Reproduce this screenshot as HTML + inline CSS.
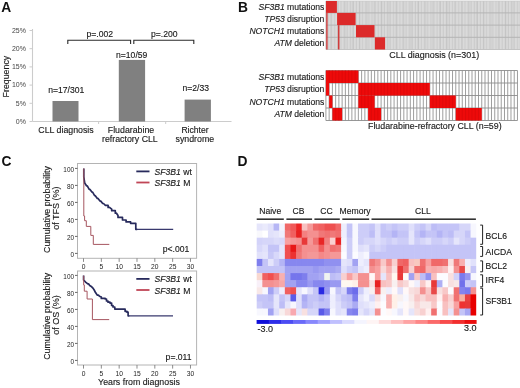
<!DOCTYPE html>
<html><head><meta charset="utf-8"><style>
html,body{margin:0;padding:0;background:#fff;width:520px;height:388px;overflow:hidden}
svg{display:block;will-change:transform;font-family:"Liberation Sans", sans-serif}
text[fill="#1a1a1a"]{stroke:#1a1a1a;stroke-width:0.14px}
</style></head><body>
<svg width="520" height="388" viewBox="0 0 520 388">
<text x="1.2" y="12.4" text-anchor="start" font-size="13.8" font-weight="bold" fill="#111" >A</text>
<text x="238" y="11.6" text-anchor="start" font-size="13.8" font-weight="bold" fill="#111" >B</text>
<text x="1.5" y="165.6" text-anchor="start" font-size="13.8" font-weight="bold" fill="#111" >C</text>
<text x="237.5" y="165.8" text-anchor="start" font-size="13.8" font-weight="bold" fill="#111" >D</text>
<line x1="32.5" y1="29.0" x2="32.5" y2="121.5" stroke="#cccccc" stroke-width="1.1"/>
<line x1="32.5" y1="121.5" x2="231.5" y2="121.5" stroke="#cccccc" stroke-width="1.1"/>
<line x1="29.5" y1="121.5" x2="32.5" y2="121.5" stroke="#cccccc" stroke-width="1"/>
<text x="25.9" y="123.7" text-anchor="end" font-size="7.0" font-weight="normal" fill="#444" >0%</text>
<line x1="29.5" y1="103.3" x2="32.5" y2="103.3" stroke="#cccccc" stroke-width="1"/>
<text x="25.9" y="105.5" text-anchor="end" font-size="7.0" font-weight="normal" fill="#444" >5%</text>
<line x1="29.5" y1="85.1" x2="32.5" y2="85.1" stroke="#cccccc" stroke-width="1"/>
<text x="25.9" y="87.3" text-anchor="end" font-size="7.0" font-weight="normal" fill="#444" >10%</text>
<line x1="29.5" y1="66.9" x2="32.5" y2="66.9" stroke="#cccccc" stroke-width="1"/>
<text x="25.9" y="69.10000000000001" text-anchor="end" font-size="7.0" font-weight="normal" fill="#444" >15%</text>
<line x1="29.5" y1="48.7" x2="32.5" y2="48.7" stroke="#cccccc" stroke-width="1"/>
<text x="25.9" y="50.900000000000006" text-anchor="end" font-size="7.0" font-weight="normal" fill="#444" >20%</text>
<line x1="29.5" y1="30.5" x2="32.5" y2="30.5" stroke="#cccccc" stroke-width="1"/>
<text x="25.9" y="32.7" text-anchor="end" font-size="7.0" font-weight="normal" fill="#444" >25%</text>
<line x1="98.6" y1="121.5" x2="98.6" y2="124.0" stroke="#cccccc" stroke-width="1"/>
<line x1="165.7" y1="121.5" x2="165.7" y2="124.0" stroke="#cccccc" stroke-width="1"/>
<text transform="translate(8.9,76.6) rotate(-90)" text-anchor="middle" font-size="8.8" fill="#1a1a1a">Frequency</text>
<rect x="52.50" y="101.00" width="26.00" height="20.50" fill="#808080" />
<rect x="118.80" y="59.90" width="26.30" height="61.60" fill="#808080" />
<rect x="184.60" y="99.60" width="26.30" height="21.90" fill="#808080" />
<text x="66.2" y="92.7" text-anchor="middle" font-size="8.6" font-weight="normal" fill="#1a1a1a" >n=17/301</text>
<text x="131.7" y="57.5" text-anchor="middle" font-size="8.6" font-weight="normal" fill="#1a1a1a" >n=10/59</text>
<text x="195.8" y="91.2" text-anchor="middle" font-size="8.6" font-weight="normal" fill="#1a1a1a" >n=2/33</text>
<text x="66" y="133" text-anchor="middle" font-size="8.8" font-weight="normal" fill="#1a1a1a" >CLL diagnosis</text>
<text x="131" y="132.7" text-anchor="middle" font-size="8.8" font-weight="normal" fill="#1a1a1a" >Fludarabine</text>
<text x="129.9" y="141.8" text-anchor="middle" font-size="8.8" font-weight="normal" fill="#1a1a1a" >refractory CLL</text>
<text x="195" y="132.8" text-anchor="middle" font-size="8.6" font-weight="normal" fill="#1a1a1a" >Richter</text>
<text x="194.8" y="141.6" text-anchor="middle" font-size="8.8" font-weight="normal" fill="#1a1a1a" >syndrome</text>
<path d="M67.8,44.0 V40.3 H130.6 V44.0" fill="none" stroke="#2a2a2a" stroke-width="1.1"/>
<path d="M133.8,44.0 V40.3 H193.8 V44.0" fill="none" stroke="#2a2a2a" stroke-width="1.1"/>
<text x="99.8" y="37.3" text-anchor="middle" font-size="8.6" font-weight="normal" fill="#1a1a1a" >p=.002</text>
<text x="164.3" y="37.3" text-anchor="middle" font-size="8.6" font-weight="normal" fill="#1a1a1a" >p=.200</text>
<text x="324.4" y="9.6" text-anchor="end" font-size="8.6" fill="#1a1a1a"><tspan font-style="italic">SF3B1</tspan> mutations</text>
<text x="324.4" y="21.6" text-anchor="end" font-size="8.6" fill="#1a1a1a"><tspan font-style="italic">TP53</tspan> disruption</text>
<text x="324.4" y="33.8" text-anchor="end" font-size="8.6" fill="#1a1a1a"><tspan font-style="italic">NOTCH1</tspan> mutations</text>
<text x="324.4" y="46.0" text-anchor="end" font-size="8.6" fill="#1a1a1a"><tspan font-style="italic">ATM</tspan> deletion</text>
<text x="324.4" y="80.0" text-anchor="end" font-size="8.6" fill="#1a1a1a"><tspan font-style="italic">SF3B1</tspan> mutations</text>
<text x="324.4" y="92.4" text-anchor="end" font-size="8.6" fill="#1a1a1a"><tspan font-style="italic">TP53</tspan> disruption</text>
<text x="324.4" y="104.9" text-anchor="end" font-size="8.6" fill="#1a1a1a"><tspan font-style="italic">NOTCH1</tspan> mutations</text>
<text x="324.4" y="117.4" text-anchor="end" font-size="8.6" fill="#1a1a1a"><tspan font-style="italic">ATM</tspan> deletion</text>
<defs><pattern id="stripes" x="326.0" y="0" width="3.1" height="10" patternUnits="userSpaceOnUse"><rect width="3.1" height="10" fill="#dadada"/><rect x="2.1" width="0.9" height="10" fill="#c9c9c9"/></pattern><pattern id="stripes2" x="327.0" y="0" width="7.3" height="10" patternUnits="userSpaceOnUse"><rect x="3" width="1.2" height="10" fill="#000" fill-opacity="0.05"/></pattern></defs>
<rect x="326.00" y="1.00" width="194.50" height="48.50" fill="url(#stripes)" />
<rect x="326.00" y="1.00" width="194.50" height="48.50" fill="url(#stripes2)" />
<line x1="326.0" y1="12.9" x2="520.5" y2="12.9" stroke="#b4b4b4" stroke-width="1"/>
<line x1="326.0" y1="25.1" x2="520.5" y2="25.1" stroke="#b4b4b4" stroke-width="1"/>
<line x1="326.0" y1="37.3" x2="520.5" y2="37.3" stroke="#b4b4b4" stroke-width="1"/>
<line x1="326.0" y1="1.0" x2="520.5" y2="1.0" stroke="#c8c8c8" stroke-width="0.8"/>
<line x1="326.0" y1="49.5" x2="520.5" y2="49.5" stroke="#c0c0c0" stroke-width="0.9"/>
<line x1="326.0" y1="1.0" x2="326.0" y2="49.5" stroke="#b8b8b8" stroke-width="1"/>
<rect x="326.00" y="1.00" width="10.90" height="11.90" fill="#dc2a2a" />
<rect x="337.10" y="12.90" width="18.50" height="12.20" fill="#dc2a2a" />
<rect x="356.00" y="25.10" width="18.50" height="12.20" fill="#dc2a2a" />
<rect x="374.90" y="37.30" width="10.20" height="12.20" fill="#dc2a2a" />
<rect x="326.20" y="12.90" width="1.40" height="36.60" fill="#d03c3c" />
<rect x="337.90" y="25.10" width="1.60" height="24.40" fill="#d03c3c" />
<text x="389.3" y="58.0" text-anchor="start" font-size="8.95" font-weight="normal" fill="#1a1a1a" >CLL diagnosis (n=301)</text>
<rect x="325.90" y="70.50" width="191.57" height="50.00" fill="#fff" />
<line x1="325.9" y1="70.5" x2="325.9" y2="120.5" stroke="#8c8c8c" stroke-width="0.85"/>
<line x1="329.147" y1="70.5" x2="329.147" y2="120.5" stroke="#8c8c8c" stroke-width="0.85"/>
<line x1="332.394" y1="70.5" x2="332.394" y2="120.5" stroke="#8c8c8c" stroke-width="0.85"/>
<line x1="335.64099999999996" y1="70.5" x2="335.64099999999996" y2="120.5" stroke="#8c8c8c" stroke-width="0.85"/>
<line x1="338.888" y1="70.5" x2="338.888" y2="120.5" stroke="#8c8c8c" stroke-width="0.85"/>
<line x1="342.135" y1="70.5" x2="342.135" y2="120.5" stroke="#8c8c8c" stroke-width="0.85"/>
<line x1="345.38199999999995" y1="70.5" x2="345.38199999999995" y2="120.5" stroke="#8c8c8c" stroke-width="0.85"/>
<line x1="348.62899999999996" y1="70.5" x2="348.62899999999996" y2="120.5" stroke="#8c8c8c" stroke-width="0.85"/>
<line x1="351.876" y1="70.5" x2="351.876" y2="120.5" stroke="#8c8c8c" stroke-width="0.85"/>
<line x1="355.123" y1="70.5" x2="355.123" y2="120.5" stroke="#8c8c8c" stroke-width="0.85"/>
<line x1="358.37" y1="70.5" x2="358.37" y2="120.5" stroke="#8c8c8c" stroke-width="0.85"/>
<line x1="361.61699999999996" y1="70.5" x2="361.61699999999996" y2="120.5" stroke="#8c8c8c" stroke-width="0.85"/>
<line x1="364.864" y1="70.5" x2="364.864" y2="120.5" stroke="#8c8c8c" stroke-width="0.85"/>
<line x1="368.111" y1="70.5" x2="368.111" y2="120.5" stroke="#8c8c8c" stroke-width="0.85"/>
<line x1="371.35799999999995" y1="70.5" x2="371.35799999999995" y2="120.5" stroke="#8c8c8c" stroke-width="0.85"/>
<line x1="374.60499999999996" y1="70.5" x2="374.60499999999996" y2="120.5" stroke="#8c8c8c" stroke-width="0.85"/>
<line x1="377.852" y1="70.5" x2="377.852" y2="120.5" stroke="#8c8c8c" stroke-width="0.85"/>
<line x1="381.099" y1="70.5" x2="381.099" y2="120.5" stroke="#8c8c8c" stroke-width="0.85"/>
<line x1="384.346" y1="70.5" x2="384.346" y2="120.5" stroke="#8c8c8c" stroke-width="0.85"/>
<line x1="387.59299999999996" y1="70.5" x2="387.59299999999996" y2="120.5" stroke="#8c8c8c" stroke-width="0.85"/>
<line x1="390.84" y1="70.5" x2="390.84" y2="120.5" stroke="#8c8c8c" stroke-width="0.85"/>
<line x1="394.087" y1="70.5" x2="394.087" y2="120.5" stroke="#8c8c8c" stroke-width="0.85"/>
<line x1="397.33399999999995" y1="70.5" x2="397.33399999999995" y2="120.5" stroke="#8c8c8c" stroke-width="0.85"/>
<line x1="400.58099999999996" y1="70.5" x2="400.58099999999996" y2="120.5" stroke="#8c8c8c" stroke-width="0.85"/>
<line x1="403.828" y1="70.5" x2="403.828" y2="120.5" stroke="#8c8c8c" stroke-width="0.85"/>
<line x1="407.075" y1="70.5" x2="407.075" y2="120.5" stroke="#8c8c8c" stroke-width="0.85"/>
<line x1="410.322" y1="70.5" x2="410.322" y2="120.5" stroke="#8c8c8c" stroke-width="0.85"/>
<line x1="413.56899999999996" y1="70.5" x2="413.56899999999996" y2="120.5" stroke="#8c8c8c" stroke-width="0.85"/>
<line x1="416.816" y1="70.5" x2="416.816" y2="120.5" stroke="#8c8c8c" stroke-width="0.85"/>
<line x1="420.063" y1="70.5" x2="420.063" y2="120.5" stroke="#8c8c8c" stroke-width="0.85"/>
<line x1="423.30999999999995" y1="70.5" x2="423.30999999999995" y2="120.5" stroke="#8c8c8c" stroke-width="0.85"/>
<line x1="426.55699999999996" y1="70.5" x2="426.55699999999996" y2="120.5" stroke="#8c8c8c" stroke-width="0.85"/>
<line x1="429.804" y1="70.5" x2="429.804" y2="120.5" stroke="#8c8c8c" stroke-width="0.85"/>
<line x1="433.051" y1="70.5" x2="433.051" y2="120.5" stroke="#8c8c8c" stroke-width="0.85"/>
<line x1="436.298" y1="70.5" x2="436.298" y2="120.5" stroke="#8c8c8c" stroke-width="0.85"/>
<line x1="439.54499999999996" y1="70.5" x2="439.54499999999996" y2="120.5" stroke="#8c8c8c" stroke-width="0.85"/>
<line x1="442.792" y1="70.5" x2="442.792" y2="120.5" stroke="#8c8c8c" stroke-width="0.85"/>
<line x1="446.039" y1="70.5" x2="446.039" y2="120.5" stroke="#8c8c8c" stroke-width="0.85"/>
<line x1="449.28599999999994" y1="70.5" x2="449.28599999999994" y2="120.5" stroke="#8c8c8c" stroke-width="0.85"/>
<line x1="452.53299999999996" y1="70.5" x2="452.53299999999996" y2="120.5" stroke="#8c8c8c" stroke-width="0.85"/>
<line x1="455.78" y1="70.5" x2="455.78" y2="120.5" stroke="#8c8c8c" stroke-width="0.85"/>
<line x1="459.027" y1="70.5" x2="459.027" y2="120.5" stroke="#8c8c8c" stroke-width="0.85"/>
<line x1="462.274" y1="70.5" x2="462.274" y2="120.5" stroke="#8c8c8c" stroke-width="0.85"/>
<line x1="465.52099999999996" y1="70.5" x2="465.52099999999996" y2="120.5" stroke="#8c8c8c" stroke-width="0.85"/>
<line x1="468.768" y1="70.5" x2="468.768" y2="120.5" stroke="#8c8c8c" stroke-width="0.85"/>
<line x1="472.015" y1="70.5" x2="472.015" y2="120.5" stroke="#8c8c8c" stroke-width="0.85"/>
<line x1="475.26199999999994" y1="70.5" x2="475.26199999999994" y2="120.5" stroke="#8c8c8c" stroke-width="0.85"/>
<line x1="478.50899999999996" y1="70.5" x2="478.50899999999996" y2="120.5" stroke="#8c8c8c" stroke-width="0.85"/>
<line x1="481.756" y1="70.5" x2="481.756" y2="120.5" stroke="#8c8c8c" stroke-width="0.85"/>
<line x1="485.003" y1="70.5" x2="485.003" y2="120.5" stroke="#8c8c8c" stroke-width="0.85"/>
<line x1="488.25" y1="70.5" x2="488.25" y2="120.5" stroke="#8c8c8c" stroke-width="0.85"/>
<line x1="491.49699999999996" y1="70.5" x2="491.49699999999996" y2="120.5" stroke="#8c8c8c" stroke-width="0.85"/>
<line x1="494.74399999999997" y1="70.5" x2="494.74399999999997" y2="120.5" stroke="#8c8c8c" stroke-width="0.85"/>
<line x1="497.991" y1="70.5" x2="497.991" y2="120.5" stroke="#8c8c8c" stroke-width="0.85"/>
<line x1="501.23799999999994" y1="70.5" x2="501.23799999999994" y2="120.5" stroke="#8c8c8c" stroke-width="0.85"/>
<line x1="504.48499999999996" y1="70.5" x2="504.48499999999996" y2="120.5" stroke="#8c8c8c" stroke-width="0.85"/>
<line x1="507.73199999999997" y1="70.5" x2="507.73199999999997" y2="120.5" stroke="#8c8c8c" stroke-width="0.85"/>
<line x1="510.979" y1="70.5" x2="510.979" y2="120.5" stroke="#8c8c8c" stroke-width="0.85"/>
<line x1="514.226" y1="70.5" x2="514.226" y2="120.5" stroke="#8c8c8c" stroke-width="0.85"/>
<line x1="517.473" y1="70.5" x2="517.473" y2="120.5" stroke="#8c8c8c" stroke-width="0.85"/>
<line x1="325.9" y1="70.5" x2="517.473" y2="70.5" stroke="#8c8c8c" stroke-width="0.9"/>
<line x1="325.9" y1="83.0" x2="517.473" y2="83.0" stroke="#8c8c8c" stroke-width="0.9"/>
<line x1="325.9" y1="95.5" x2="517.473" y2="95.5" stroke="#8c8c8c" stroke-width="0.9"/>
<line x1="325.9" y1="108.0" x2="517.473" y2="108.0" stroke="#8c8c8c" stroke-width="0.9"/>
<line x1="325.9" y1="120.5" x2="517.473" y2="120.5" stroke="#8c8c8c" stroke-width="0.9"/>
<rect x="325.90" y="70.50" width="32.47" height="12.50" fill="#ee0a0a" />
<line x1="329.147" y1="70.5" x2="329.147" y2="83.0" stroke="#d80808" stroke-width="0.7"/>
<line x1="332.394" y1="70.5" x2="332.394" y2="83.0" stroke="#d80808" stroke-width="0.7"/>
<line x1="335.64099999999996" y1="70.5" x2="335.64099999999996" y2="83.0" stroke="#d80808" stroke-width="0.7"/>
<line x1="338.888" y1="70.5" x2="338.888" y2="83.0" stroke="#d80808" stroke-width="0.7"/>
<line x1="342.135" y1="70.5" x2="342.135" y2="83.0" stroke="#d80808" stroke-width="0.7"/>
<line x1="345.38199999999995" y1="70.5" x2="345.38199999999995" y2="83.0" stroke="#d80808" stroke-width="0.7"/>
<line x1="348.62899999999996" y1="70.5" x2="348.62899999999996" y2="83.0" stroke="#d80808" stroke-width="0.7"/>
<line x1="351.876" y1="70.5" x2="351.876" y2="83.0" stroke="#d80808" stroke-width="0.7"/>
<line x1="355.123" y1="70.5" x2="355.123" y2="83.0" stroke="#d80808" stroke-width="0.7"/>
<rect x="325.90" y="83.00" width="3.25" height="12.50" fill="#ee0a0a" />
<rect x="358.37" y="83.00" width="71.43" height="12.50" fill="#ee0a0a" />
<line x1="361.61699999999996" y1="83.0" x2="361.61699999999996" y2="95.5" stroke="#d80808" stroke-width="0.7"/>
<line x1="364.864" y1="83.0" x2="364.864" y2="95.5" stroke="#d80808" stroke-width="0.7"/>
<line x1="368.111" y1="83.0" x2="368.111" y2="95.5" stroke="#d80808" stroke-width="0.7"/>
<line x1="371.35799999999995" y1="83.0" x2="371.35799999999995" y2="95.5" stroke="#d80808" stroke-width="0.7"/>
<line x1="374.60499999999996" y1="83.0" x2="374.60499999999996" y2="95.5" stroke="#d80808" stroke-width="0.7"/>
<line x1="377.852" y1="83.0" x2="377.852" y2="95.5" stroke="#d80808" stroke-width="0.7"/>
<line x1="381.099" y1="83.0" x2="381.099" y2="95.5" stroke="#d80808" stroke-width="0.7"/>
<line x1="384.346" y1="83.0" x2="384.346" y2="95.5" stroke="#d80808" stroke-width="0.7"/>
<line x1="387.59299999999996" y1="83.0" x2="387.59299999999996" y2="95.5" stroke="#d80808" stroke-width="0.7"/>
<line x1="390.84" y1="83.0" x2="390.84" y2="95.5" stroke="#d80808" stroke-width="0.7"/>
<line x1="394.087" y1="83.0" x2="394.087" y2="95.5" stroke="#d80808" stroke-width="0.7"/>
<line x1="397.33399999999995" y1="83.0" x2="397.33399999999995" y2="95.5" stroke="#d80808" stroke-width="0.7"/>
<line x1="400.58099999999996" y1="83.0" x2="400.58099999999996" y2="95.5" stroke="#d80808" stroke-width="0.7"/>
<line x1="403.828" y1="83.0" x2="403.828" y2="95.5" stroke="#d80808" stroke-width="0.7"/>
<line x1="407.075" y1="83.0" x2="407.075" y2="95.5" stroke="#d80808" stroke-width="0.7"/>
<line x1="410.322" y1="83.0" x2="410.322" y2="95.5" stroke="#d80808" stroke-width="0.7"/>
<line x1="413.56899999999996" y1="83.0" x2="413.56899999999996" y2="95.5" stroke="#d80808" stroke-width="0.7"/>
<line x1="416.816" y1="83.0" x2="416.816" y2="95.5" stroke="#d80808" stroke-width="0.7"/>
<line x1="420.063" y1="83.0" x2="420.063" y2="95.5" stroke="#d80808" stroke-width="0.7"/>
<line x1="423.30999999999995" y1="83.0" x2="423.30999999999995" y2="95.5" stroke="#d80808" stroke-width="0.7"/>
<line x1="426.55699999999996" y1="83.0" x2="426.55699999999996" y2="95.5" stroke="#d80808" stroke-width="0.7"/>
<rect x="329.15" y="95.50" width="3.25" height="12.50" fill="#ee0a0a" />
<rect x="358.37" y="95.50" width="16.23" height="12.50" fill="#ee0a0a" />
<line x1="361.61699999999996" y1="95.5" x2="361.61699999999996" y2="108.0" stroke="#d80808" stroke-width="0.7"/>
<line x1="364.864" y1="95.5" x2="364.864" y2="108.0" stroke="#d80808" stroke-width="0.7"/>
<line x1="368.111" y1="95.5" x2="368.111" y2="108.0" stroke="#d80808" stroke-width="0.7"/>
<line x1="371.35799999999995" y1="95.5" x2="371.35799999999995" y2="108.0" stroke="#d80808" stroke-width="0.7"/>
<rect x="429.80" y="95.50" width="25.98" height="12.50" fill="#ee0a0a" />
<line x1="433.051" y1="95.5" x2="433.051" y2="108.0" stroke="#d80808" stroke-width="0.7"/>
<line x1="436.298" y1="95.5" x2="436.298" y2="108.0" stroke="#d80808" stroke-width="0.7"/>
<line x1="439.54499999999996" y1="95.5" x2="439.54499999999996" y2="108.0" stroke="#d80808" stroke-width="0.7"/>
<line x1="442.792" y1="95.5" x2="442.792" y2="108.0" stroke="#d80808" stroke-width="0.7"/>
<line x1="446.039" y1="95.5" x2="446.039" y2="108.0" stroke="#d80808" stroke-width="0.7"/>
<line x1="449.28599999999994" y1="95.5" x2="449.28599999999994" y2="108.0" stroke="#d80808" stroke-width="0.7"/>
<line x1="452.53299999999996" y1="95.5" x2="452.53299999999996" y2="108.0" stroke="#d80808" stroke-width="0.7"/>
<rect x="332.39" y="108.00" width="9.74" height="12.50" fill="#ee0a0a" />
<line x1="335.64099999999996" y1="108.0" x2="335.64099999999996" y2="120.5" stroke="#d80808" stroke-width="0.7"/>
<line x1="338.888" y1="108.0" x2="338.888" y2="120.5" stroke="#d80808" stroke-width="0.7"/>
<rect x="368.11" y="108.00" width="12.99" height="12.50" fill="#ee0a0a" />
<line x1="371.35799999999995" y1="108.0" x2="371.35799999999995" y2="120.5" stroke="#d80808" stroke-width="0.7"/>
<line x1="374.60499999999996" y1="108.0" x2="374.60499999999996" y2="120.5" stroke="#d80808" stroke-width="0.7"/>
<line x1="377.852" y1="108.0" x2="377.852" y2="120.5" stroke="#d80808" stroke-width="0.7"/>
<rect x="455.78" y="108.00" width="25.98" height="12.50" fill="#ee0a0a" />
<line x1="459.027" y1="108.0" x2="459.027" y2="120.5" stroke="#d80808" stroke-width="0.7"/>
<line x1="462.274" y1="108.0" x2="462.274" y2="120.5" stroke="#d80808" stroke-width="0.7"/>
<line x1="465.52099999999996" y1="108.0" x2="465.52099999999996" y2="120.5" stroke="#d80808" stroke-width="0.7"/>
<line x1="468.768" y1="108.0" x2="468.768" y2="120.5" stroke="#d80808" stroke-width="0.7"/>
<line x1="472.015" y1="108.0" x2="472.015" y2="120.5" stroke="#d80808" stroke-width="0.7"/>
<line x1="475.26199999999994" y1="108.0" x2="475.26199999999994" y2="120.5" stroke="#d80808" stroke-width="0.7"/>
<line x1="478.50899999999996" y1="108.0" x2="478.50899999999996" y2="120.5" stroke="#d80808" stroke-width="0.7"/>
<text x="368.0" y="128.8" text-anchor="start" font-size="8.85" font-weight="normal" fill="#1a1a1a" >Fludarabine-refractory CLL (n=59)</text>
<rect x="77.5" y="163.5" width="119.1" height="94.80000000000001" fill="none" stroke="#b4b4b4" stroke-width="1.0"/>
<line x1="75" y1="253.4" x2="77.5" y2="253.4" stroke="#555" stroke-width="0.9"/>
<text x="74.0" y="256.8" text-anchor="end" font-size="6.4" font-weight="normal" fill="#222" >0</text>
<line x1="75" y1="236.4" x2="77.5" y2="236.4" stroke="#555" stroke-width="0.9"/>
<text x="74.0" y="239.8" text-anchor="end" font-size="6.4" font-weight="normal" fill="#222" >20</text>
<line x1="75" y1="219.4" x2="77.5" y2="219.4" stroke="#555" stroke-width="0.9"/>
<text x="74.0" y="222.8" text-anchor="end" font-size="6.4" font-weight="normal" fill="#222" >40</text>
<line x1="75" y1="202.4" x2="77.5" y2="202.4" stroke="#555" stroke-width="0.9"/>
<text x="74.0" y="205.8" text-anchor="end" font-size="6.4" font-weight="normal" fill="#222" >60</text>
<line x1="75" y1="185.4" x2="77.5" y2="185.4" stroke="#555" stroke-width="0.9"/>
<text x="74.0" y="188.8" text-anchor="end" font-size="6.4" font-weight="normal" fill="#222" >80</text>
<line x1="75" y1="168.4" x2="77.5" y2="168.4" stroke="#555" stroke-width="0.9"/>
<text x="74.0" y="171.8" text-anchor="end" font-size="6.4" font-weight="normal" fill="#222" >100</text>
<line x1="83.5" y1="258.3" x2="83.5" y2="261.90000000000003" stroke="#777" stroke-width="0.85"/>
<text x="83.5" y="268.9" text-anchor="middle" font-size="6.7" font-weight="normal" fill="#222" >0</text>
<line x1="101.33" y1="258.3" x2="101.33" y2="261.90000000000003" stroke="#777" stroke-width="0.85"/>
<text x="101.33" y="268.9" text-anchor="middle" font-size="6.7" font-weight="normal" fill="#222" >5</text>
<line x1="119.16" y1="258.3" x2="119.16" y2="261.90000000000003" stroke="#777" stroke-width="0.85"/>
<text x="119.16" y="268.9" text-anchor="middle" font-size="6.7" font-weight="normal" fill="#222" >10</text>
<line x1="136.99" y1="258.3" x2="136.99" y2="261.90000000000003" stroke="#777" stroke-width="0.85"/>
<text x="136.99" y="268.9" text-anchor="middle" font-size="6.7" font-weight="normal" fill="#222" >15</text>
<line x1="154.82" y1="258.3" x2="154.82" y2="261.90000000000003" stroke="#777" stroke-width="0.85"/>
<text x="154.82" y="268.9" text-anchor="middle" font-size="6.7" font-weight="normal" fill="#222" >20</text>
<line x1="172.64999999999998" y1="258.3" x2="172.64999999999998" y2="261.90000000000003" stroke="#777" stroke-width="0.85"/>
<text x="172.64999999999998" y="268.9" text-anchor="middle" font-size="6.7" font-weight="normal" fill="#222" >25</text>
<line x1="190.48" y1="258.3" x2="190.48" y2="261.90000000000003" stroke="#777" stroke-width="0.85"/>
<text x="190.48" y="268.9" text-anchor="middle" font-size="6.7" font-weight="normal" fill="#222" >30</text>
<text transform="translate(49.6,209.5) rotate(-90)" text-anchor="middle" font-size="8.85" fill="#1a1a1a">Cumulative probability</text>
<text transform="translate(59.2,208.1) rotate(-90)" text-anchor="middle" font-size="9.0" fill="#1a1a1a">of TFS (%)</text>
<line x1="136.3" y1="171.4" x2="149.5" y2="171.4" stroke="#272a5c" stroke-width="1.8"/>
<line x1="136.3" y1="182.5" x2="149.5" y2="182.5" stroke="#c04656" stroke-width="1.8"/>
<text x="154.6" y="174.9" font-size="8.6" fill="#1a1a1a"><tspan font-style="italic">SF3B1</tspan> wt</text>
<text x="154.6" y="186.0" font-size="8.6" fill="#1a1a1a"><tspan font-style="italic">SF3B1</tspan> M</text>
<text x="189.3" y="251.9" text-anchor="end" font-size="8.6" font-weight="normal" fill="#1a1a1a" >p&lt;.001</text>
<rect x="77.5" y="271.0" width="119.1" height="94.0" fill="none" stroke="#b4b4b4" stroke-width="1.0"/>
<line x1="75" y1="360.4" x2="77.5" y2="360.4" stroke="#555" stroke-width="0.9"/>
<text x="74.0" y="363.79999999999995" text-anchor="end" font-size="6.4" font-weight="normal" fill="#222" >0</text>
<line x1="75" y1="343.4" x2="77.5" y2="343.4" stroke="#555" stroke-width="0.9"/>
<text x="74.0" y="346.79999999999995" text-anchor="end" font-size="6.4" font-weight="normal" fill="#222" >20</text>
<line x1="75" y1="326.4" x2="77.5" y2="326.4" stroke="#555" stroke-width="0.9"/>
<text x="74.0" y="329.79999999999995" text-anchor="end" font-size="6.4" font-weight="normal" fill="#222" >40</text>
<line x1="75" y1="309.4" x2="77.5" y2="309.4" stroke="#555" stroke-width="0.9"/>
<text x="74.0" y="312.79999999999995" text-anchor="end" font-size="6.4" font-weight="normal" fill="#222" >60</text>
<line x1="75" y1="292.4" x2="77.5" y2="292.4" stroke="#555" stroke-width="0.9"/>
<text x="74.0" y="295.79999999999995" text-anchor="end" font-size="6.4" font-weight="normal" fill="#222" >80</text>
<line x1="75" y1="275.4" x2="77.5" y2="275.4" stroke="#555" stroke-width="0.9"/>
<text x="74.0" y="278.79999999999995" text-anchor="end" font-size="6.4" font-weight="normal" fill="#222" >100</text>
<line x1="83.5" y1="365.0" x2="83.5" y2="368.6" stroke="#777" stroke-width="0.85"/>
<text x="83.5" y="375.8" text-anchor="middle" font-size="6.7" font-weight="normal" fill="#222" >0</text>
<line x1="101.33" y1="365.0" x2="101.33" y2="368.6" stroke="#777" stroke-width="0.85"/>
<text x="101.33" y="375.8" text-anchor="middle" font-size="6.7" font-weight="normal" fill="#222" >5</text>
<line x1="119.16" y1="365.0" x2="119.16" y2="368.6" stroke="#777" stroke-width="0.85"/>
<text x="119.16" y="375.8" text-anchor="middle" font-size="6.7" font-weight="normal" fill="#222" >10</text>
<line x1="136.99" y1="365.0" x2="136.99" y2="368.6" stroke="#777" stroke-width="0.85"/>
<text x="136.99" y="375.8" text-anchor="middle" font-size="6.7" font-weight="normal" fill="#222" >15</text>
<line x1="154.82" y1="365.0" x2="154.82" y2="368.6" stroke="#777" stroke-width="0.85"/>
<text x="154.82" y="375.8" text-anchor="middle" font-size="6.7" font-weight="normal" fill="#222" >20</text>
<line x1="172.64999999999998" y1="365.0" x2="172.64999999999998" y2="368.6" stroke="#777" stroke-width="0.85"/>
<text x="172.64999999999998" y="375.8" text-anchor="middle" font-size="6.7" font-weight="normal" fill="#222" >25</text>
<line x1="190.48" y1="365.0" x2="190.48" y2="368.6" stroke="#777" stroke-width="0.85"/>
<text x="190.48" y="375.8" text-anchor="middle" font-size="6.7" font-weight="normal" fill="#222" >30</text>
<text transform="translate(49.6,316.3) rotate(-90)" text-anchor="middle" font-size="8.85" fill="#1a1a1a">Cumulative probability</text>
<text transform="translate(59.2,314.90000000000003) rotate(-90)" text-anchor="middle" font-size="9.0" fill="#1a1a1a">of OS (%)</text>
<line x1="136.3" y1="278.9" x2="149.5" y2="278.9" stroke="#272a5c" stroke-width="1.8"/>
<line x1="136.3" y1="290.0" x2="149.5" y2="290.0" stroke="#c04656" stroke-width="1.8"/>
<text x="154.6" y="282.4" font-size="8.6" fill="#1a1a1a"><tspan font-style="italic">SF3B1</tspan> wt</text>
<text x="154.6" y="293.5" font-size="8.6" fill="#1a1a1a"><tspan font-style="italic">SF3B1</tspan> M</text>
<text x="191.5" y="359.6" text-anchor="end" font-size="8.6" font-weight="normal" fill="#1a1a1a" >p=.011</text>
<text x="139" y="385.2" text-anchor="middle" font-size="8.8" font-weight="normal" fill="#1a1a1a" >Years from diagnosis</text>
<path d="M83.8,168.4 V177 L84.7,183 L86.5,185.8 H87.3 L89.2,189.4 H90 L91.9,192.1 H92.6 L94.6,195.7 H95.3 L97.3,198.4 H98 L100,201.1 H100.8 L102.7,203.5 H103.5 L105.4,205.3 H108.1 V207.4 H109.5 L111.7,209.2 V210.7 H115.3 V213.2 H116.5 L118,215.5 V217.4 H122.5 V220 H126.1 V221.9 H130.6 V223.3 H135.8 V229.3 H137.2" fill="none" stroke="#272a5c" stroke-width="1.7" stroke-linejoin="round"/>
<path d="M83.8,168.4 V216 H84.6 V220.7 H86.3 V226.4 H90.8 V235.4 H93.3 V244.4 H109.3" fill="none" stroke="#a65660" stroke-width="1.0"/>
<path d="M83.6,275.6 V280 L85.9,282.3 L87.8,283.8 H88.5 L89.7,285.5 L91.7,286.8 L92.9,288.1 L94.2,290 L95.5,292.6 L97.4,295.2 H98.4 L99.4,296.2 L101.3,297.1 V298.4 H105.2 V299 H106.5 V301 H108 V302.2 H110 V303.1 H111.6 V305.5 H113 V307 H114.8 V309.1 H125.1 V311.3 H127 V312.2 H128.1 V315.8 H129.3" fill="none" stroke="#272a5c" stroke-width="1.7" stroke-linejoin="round"/>
<line x1="136.8" y1="229.3" x2="173.2" y2="229.3" stroke="#38396e" stroke-width="1.15"/>
<line x1="128.9" y1="315.8" x2="173.0" y2="315.8" stroke="#38396e" stroke-width="1.15"/>
<path d="M83.7,275.7 V285 H84.3 V291.2 H87.1 V299 H92.4 V319.6 H109.2" fill="none" stroke="#a65660" stroke-width="1.0"/>
<defs><filter id="hb" x="-2%" y="-2%" width="104%" height="104%"><feGaussianBlur stdDeviation="0.55"/></filter><clipPath id="hc"><rect x="256.7" y="223.5" width="219.5" height="92.1"/></clipPath></defs>
<g clip-path="url(#hc)"><g filter="url(#hb)">
<rect x="253.70" y="220.50" width="9.23" height="10.68" fill="#e5e5fb" />
<rect x="262.33" y="220.50" width="6.23" height="10.68" fill="#eaeafc" />
<rect x="267.96" y="220.50" width="6.23" height="10.68" fill="#e1e1fb" />
<rect x="273.58" y="220.50" width="6.23" height="10.68" fill="#b6b6f5" />
<rect x="279.21" y="220.50" width="6.23" height="10.68" fill="#f3f3fd" />
<rect x="284.84" y="220.50" width="6.23" height="10.68" fill="#f06868" />
<rect x="290.47" y="220.50" width="6.23" height="10.68" fill="#f05858" />
<rect x="296.10" y="220.50" width="6.23" height="10.68" fill="#ee2828" />
<rect x="301.73" y="220.50" width="6.23" height="10.68" fill="#f8c0c0" />
<rect x="307.35" y="220.50" width="6.23" height="10.68" fill="#f49898" />
<rect x="312.98" y="220.50" width="6.23" height="10.68" fill="#f06868" />
<rect x="318.61" y="220.50" width="6.23" height="10.68" fill="#f06060" />
<rect x="324.24" y="220.50" width="6.23" height="10.68" fill="#ee5050" />
<rect x="329.87" y="220.50" width="6.23" height="10.68" fill="#ee5050" />
<rect x="335.49" y="220.50" width="6.23" height="10.68" fill="#f06868" />
<rect x="341.12" y="220.50" width="6.23" height="10.68" fill="#eeeefd" />
<rect x="346.75" y="220.50" width="6.23" height="10.68" fill="#c4c4f7" />
<rect x="352.38" y="220.50" width="6.23" height="10.68" fill="#f7f7fe" />
<rect x="358.01" y="220.50" width="6.23" height="10.68" fill="#cdcdf8" />
<rect x="363.64" y="220.50" width="6.23" height="10.68" fill="#cdcdf8" />
<rect x="369.26" y="220.50" width="6.23" height="10.68" fill="#c4c4f7" />
<rect x="374.89" y="220.50" width="6.23" height="10.68" fill="#dfdffb" />
<rect x="380.52" y="220.50" width="6.23" height="10.68" fill="#c4c4f7" />
<rect x="386.15" y="220.50" width="6.23" height="10.68" fill="#cdcdf8" />
<rect x="391.78" y="220.50" width="6.23" height="10.68" fill="#c4c4f7" />
<rect x="397.41" y="220.50" width="6.23" height="10.68" fill="#cdcdf8" />
<rect x="403.03" y="220.50" width="6.23" height="10.68" fill="#cdcdf8" />
<rect x="408.66" y="220.50" width="6.23" height="10.68" fill="#dfdffb" />
<rect x="414.29" y="220.50" width="6.23" height="10.68" fill="#cdcdf8" />
<rect x="419.92" y="220.50" width="6.23" height="10.68" fill="#c4c4f7" />
<rect x="425.55" y="220.50" width="6.23" height="10.68" fill="#d6d6f9" />
<rect x="431.17" y="220.50" width="6.23" height="10.68" fill="#bdbdf6" />
<rect x="436.80" y="220.50" width="6.23" height="10.68" fill="#c4c4f7" />
<rect x="442.43" y="220.50" width="6.23" height="10.68" fill="#c4c4f7" />
<rect x="448.06" y="220.50" width="6.23" height="10.68" fill="#c4c4f7" />
<rect x="453.69" y="220.50" width="6.23" height="10.68" fill="#c4c4f7" />
<rect x="459.32" y="220.50" width="6.23" height="10.68" fill="#d6d6f9" />
<rect x="464.94" y="220.50" width="6.23" height="10.68" fill="#d6d6f9" />
<rect x="470.57" y="220.50" width="9.23" height="10.68" fill="#f7f7fe" />
<rect x="253.70" y="230.58" width="9.23" height="7.68" fill="#f8f8fc" />
<rect x="262.33" y="230.58" width="6.23" height="7.68" fill="#ffffff" />
<rect x="267.96" y="230.58" width="6.23" height="7.68" fill="#e1e1fb" />
<rect x="273.58" y="230.58" width="6.23" height="7.68" fill="#e5e5fb" />
<rect x="279.21" y="230.58" width="6.23" height="7.68" fill="#eeeefd" />
<rect x="284.84" y="230.58" width="6.23" height="7.68" fill="#f07878" />
<rect x="290.47" y="230.58" width="6.23" height="7.68" fill="#f06060" />
<rect x="296.10" y="230.58" width="6.23" height="7.68" fill="#e82020" />
<rect x="301.73" y="230.58" width="6.23" height="7.68" fill="#f48080" />
<rect x="307.35" y="230.58" width="6.23" height="7.68" fill="#f49090" />
<rect x="312.98" y="230.58" width="6.23" height="7.68" fill="#f49090" />
<rect x="318.61" y="230.58" width="6.23" height="7.68" fill="#f07878" />
<rect x="324.24" y="230.58" width="6.23" height="7.68" fill="#f07070" />
<rect x="329.87" y="230.58" width="6.23" height="7.68" fill="#f07878" />
<rect x="335.49" y="230.58" width="6.23" height="7.68" fill="#f07070" />
<rect x="341.12" y="230.58" width="6.23" height="7.68" fill="#eeeefd" />
<rect x="346.75" y="230.58" width="6.23" height="7.68" fill="#c4c4f7" />
<rect x="352.38" y="230.58" width="6.23" height="7.68" fill="#f7f7fe" />
<rect x="358.01" y="230.58" width="6.23" height="7.68" fill="#cdcdf8" />
<rect x="363.64" y="230.58" width="6.23" height="7.68" fill="#cdcdf8" />
<rect x="369.26" y="230.58" width="6.23" height="7.68" fill="#bdbdf6" />
<rect x="374.89" y="230.58" width="6.23" height="7.68" fill="#dfdffb" />
<rect x="380.52" y="230.58" width="6.23" height="7.68" fill="#c4c4f7" />
<rect x="386.15" y="230.58" width="6.23" height="7.68" fill="#c4c4f7" />
<rect x="391.78" y="230.58" width="6.23" height="7.68" fill="#b4b4f5" />
<rect x="397.41" y="230.58" width="6.23" height="7.68" fill="#c4c4f7" />
<rect x="403.03" y="230.58" width="6.23" height="7.68" fill="#c4c4f7" />
<rect x="408.66" y="230.58" width="6.23" height="7.68" fill="#e5e5fb" />
<rect x="414.29" y="230.58" width="6.23" height="7.68" fill="#c4c4f7" />
<rect x="419.92" y="230.58" width="6.23" height="7.68" fill="#b4b4f5" />
<rect x="425.55" y="230.58" width="6.23" height="7.68" fill="#c4c4f7" />
<rect x="431.17" y="230.58" width="6.23" height="7.68" fill="#c4c4f7" />
<rect x="436.80" y="230.58" width="6.23" height="7.68" fill="#b4b4f5" />
<rect x="442.43" y="230.58" width="6.23" height="7.68" fill="#c4c4f7" />
<rect x="448.06" y="230.58" width="6.23" height="7.68" fill="#bdbdf6" />
<rect x="453.69" y="230.58" width="6.23" height="7.68" fill="#d6d6f9" />
<rect x="459.32" y="230.58" width="6.23" height="7.68" fill="#d6d6f9" />
<rect x="464.94" y="230.58" width="6.23" height="7.68" fill="#c4c4f7" />
<rect x="470.57" y="230.58" width="9.23" height="7.68" fill="#f7f7fe" />
<rect x="253.70" y="237.67" width="9.23" height="7.68" fill="#d3d3f9" />
<rect x="262.33" y="237.67" width="6.23" height="7.68" fill="#d6d6f9" />
<rect x="267.96" y="237.67" width="6.23" height="7.68" fill="#d6d6f9" />
<rect x="273.58" y="237.67" width="6.23" height="7.68" fill="#dcdcfa" />
<rect x="279.21" y="237.67" width="6.23" height="7.68" fill="#d8d8fa" />
<rect x="284.84" y="237.67" width="6.23" height="7.68" fill="#f8a0a0" />
<rect x="290.47" y="237.67" width="6.23" height="7.68" fill="#f49898" />
<rect x="296.10" y="237.67" width="6.23" height="7.68" fill="#f49090" />
<rect x="301.73" y="237.67" width="6.23" height="7.68" fill="#e83838" />
<rect x="307.35" y="237.67" width="6.23" height="7.68" fill="#f49898" />
<rect x="312.98" y="237.67" width="6.23" height="7.68" fill="#f07070" />
<rect x="318.61" y="237.67" width="6.23" height="7.68" fill="#e82828" />
<rect x="324.24" y="237.67" width="6.23" height="7.68" fill="#f08080" />
<rect x="329.87" y="237.67" width="6.23" height="7.68" fill="#fad0d0" />
<rect x="335.49" y="237.67" width="6.23" height="7.68" fill="#e82020" />
<rect x="341.12" y="237.67" width="6.23" height="7.68" fill="#f3f3fd" />
<rect x="346.75" y="237.67" width="6.23" height="7.68" fill="#cdcdf8" />
<rect x="352.38" y="237.67" width="6.23" height="7.68" fill="#f7f7fe" />
<rect x="358.01" y="237.67" width="6.23" height="7.68" fill="#cdcdf8" />
<rect x="363.64" y="237.67" width="6.23" height="7.68" fill="#d6d6f9" />
<rect x="369.26" y="237.67" width="6.23" height="7.68" fill="#d6d6f9" />
<rect x="374.89" y="237.67" width="6.23" height="7.68" fill="#dfdffb" />
<rect x="380.52" y="237.67" width="6.23" height="7.68" fill="#d6d6f9" />
<rect x="386.15" y="237.67" width="6.23" height="7.68" fill="#cdcdf8" />
<rect x="391.78" y="237.67" width="6.23" height="7.68" fill="#d6d6f9" />
<rect x="397.41" y="237.67" width="6.23" height="7.68" fill="#cdcdf8" />
<rect x="403.03" y="237.67" width="6.23" height="7.68" fill="#cdcdf8" />
<rect x="408.66" y="237.67" width="6.23" height="7.68" fill="#e5e5fb" />
<rect x="414.29" y="237.67" width="6.23" height="7.68" fill="#cdcdf8" />
<rect x="419.92" y="237.67" width="6.23" height="7.68" fill="#d6d6f9" />
<rect x="425.55" y="237.67" width="6.23" height="7.68" fill="#dfdffb" />
<rect x="431.17" y="237.67" width="6.23" height="7.68" fill="#cdcdf8" />
<rect x="436.80" y="237.67" width="6.23" height="7.68" fill="#cdcdf8" />
<rect x="442.43" y="237.67" width="6.23" height="7.68" fill="#d6d6f9" />
<rect x="448.06" y="237.67" width="6.23" height="7.68" fill="#cdcdf8" />
<rect x="453.69" y="237.67" width="6.23" height="7.68" fill="#e5e5fb" />
<rect x="459.32" y="237.67" width="6.23" height="7.68" fill="#d6d6f9" />
<rect x="464.94" y="237.67" width="6.23" height="7.68" fill="#cdcdf8" />
<rect x="470.57" y="237.67" width="9.23" height="7.68" fill="#c4c4f7" />
<rect x="253.70" y="244.75" width="9.23" height="7.68" fill="#d8d8fa" />
<rect x="262.33" y="244.75" width="6.23" height="7.68" fill="#e1e1fb" />
<rect x="267.96" y="244.75" width="6.23" height="7.68" fill="#c4c4f7" />
<rect x="273.58" y="244.75" width="6.23" height="7.68" fill="#c4c4f7" />
<rect x="279.21" y="244.75" width="6.23" height="7.68" fill="#e5e5fb" />
<rect x="284.84" y="244.75" width="6.23" height="7.68" fill="#f05050" />
<rect x="290.47" y="244.75" width="6.23" height="7.68" fill="#e81818" />
<rect x="296.10" y="244.75" width="6.23" height="7.68" fill="#f07070" />
<rect x="301.73" y="244.75" width="6.23" height="7.68" fill="#f49090" />
<rect x="307.35" y="244.75" width="6.23" height="7.68" fill="#f49090" />
<rect x="312.98" y="244.75" width="6.23" height="7.68" fill="#f49090" />
<rect x="318.61" y="244.75" width="6.23" height="7.68" fill="#f06060" />
<rect x="324.24" y="244.75" width="6.23" height="7.68" fill="#f49090" />
<rect x="329.87" y="244.75" width="6.23" height="7.68" fill="#f07070" />
<rect x="335.49" y="244.75" width="6.23" height="7.68" fill="#f07878" />
<rect x="341.12" y="244.75" width="6.23" height="7.68" fill="#f7f7fe" />
<rect x="346.75" y="244.75" width="6.23" height="7.68" fill="#cdcdf8" />
<rect x="352.38" y="244.75" width="6.23" height="7.68" fill="#f7f7fe" />
<rect x="358.01" y="244.75" width="6.23" height="7.68" fill="#dfdffb" />
<rect x="363.64" y="244.75" width="6.23" height="7.68" fill="#e5e5fb" />
<rect x="369.26" y="244.75" width="6.23" height="7.68" fill="#cdcdf8" />
<rect x="374.89" y="244.75" width="6.23" height="7.68" fill="#d6d6f9" />
<rect x="380.52" y="244.75" width="6.23" height="7.68" fill="#cdcdf8" />
<rect x="386.15" y="244.75" width="6.23" height="7.68" fill="#c4c4f7" />
<rect x="391.78" y="244.75" width="6.23" height="7.68" fill="#c4c4f7" />
<rect x="397.41" y="244.75" width="6.23" height="7.68" fill="#c4c4f7" />
<rect x="403.03" y="244.75" width="6.23" height="7.68" fill="#c4c4f7" />
<rect x="408.66" y="244.75" width="6.23" height="7.68" fill="#c4c4f7" />
<rect x="414.29" y="244.75" width="6.23" height="7.68" fill="#c4c4f7" />
<rect x="419.92" y="244.75" width="6.23" height="7.68" fill="#c4c4f7" />
<rect x="425.55" y="244.75" width="6.23" height="7.68" fill="#c4c4f7" />
<rect x="431.17" y="244.75" width="6.23" height="7.68" fill="#c4c4f7" />
<rect x="436.80" y="244.75" width="6.23" height="7.68" fill="#c4c4f7" />
<rect x="442.43" y="244.75" width="6.23" height="7.68" fill="#c4c4f7" />
<rect x="448.06" y="244.75" width="6.23" height="7.68" fill="#c4c4f7" />
<rect x="453.69" y="244.75" width="6.23" height="7.68" fill="#c4c4f7" />
<rect x="459.32" y="244.75" width="6.23" height="7.68" fill="#c4c4f7" />
<rect x="464.94" y="244.75" width="6.23" height="7.68" fill="#c4c4f7" />
<rect x="470.57" y="244.75" width="9.23" height="7.68" fill="#c4c4f7" />
<rect x="253.70" y="251.84" width="9.23" height="7.68" fill="#e1e1fb" />
<rect x="262.33" y="251.84" width="6.23" height="7.68" fill="#e5e5fb" />
<rect x="267.96" y="251.84" width="6.23" height="7.68" fill="#c8c8f7" />
<rect x="273.58" y="251.84" width="6.23" height="7.68" fill="#d8d8fa" />
<rect x="279.21" y="251.84" width="6.23" height="7.68" fill="#e5e5fb" />
<rect x="284.84" y="251.84" width="6.23" height="7.68" fill="#f05050" />
<rect x="290.47" y="251.84" width="6.23" height="7.68" fill="#ec3030" />
<rect x="296.10" y="251.84" width="6.23" height="7.68" fill="#f07878" />
<rect x="301.73" y="251.84" width="6.23" height="7.68" fill="#f49090" />
<rect x="307.35" y="251.84" width="6.23" height="7.68" fill="#f49898" />
<rect x="312.98" y="251.84" width="6.23" height="7.68" fill="#f49898" />
<rect x="318.61" y="251.84" width="6.23" height="7.68" fill="#f48888" />
<rect x="324.24" y="251.84" width="6.23" height="7.68" fill="#f49090" />
<rect x="329.87" y="251.84" width="6.23" height="7.68" fill="#f49898" />
<rect x="335.49" y="251.84" width="6.23" height="7.68" fill="#f49898" />
<rect x="341.12" y="251.84" width="6.23" height="7.68" fill="#fcfcff" />
<rect x="346.75" y="251.84" width="6.23" height="7.68" fill="#cdcdf8" />
<rect x="352.38" y="251.84" width="6.23" height="7.68" fill="#fcfcff" />
<rect x="358.01" y="251.84" width="6.23" height="7.68" fill="#eeeefd" />
<rect x="363.64" y="251.84" width="6.23" height="7.68" fill="#f7f7fe" />
<rect x="369.26" y="251.84" width="6.23" height="7.68" fill="#c4c4f7" />
<rect x="374.89" y="251.84" width="6.23" height="7.68" fill="#c4c4f7" />
<rect x="380.52" y="251.84" width="6.23" height="7.68" fill="#c4c4f7" />
<rect x="386.15" y="251.84" width="6.23" height="7.68" fill="#c4c4f7" />
<rect x="391.78" y="251.84" width="6.23" height="7.68" fill="#c4c4f7" />
<rect x="397.41" y="251.84" width="6.23" height="7.68" fill="#c4c4f7" />
<rect x="403.03" y="251.84" width="6.23" height="7.68" fill="#c4c4f7" />
<rect x="408.66" y="251.84" width="6.23" height="7.68" fill="#c4c4f7" />
<rect x="414.29" y="251.84" width="6.23" height="7.68" fill="#c4c4f7" />
<rect x="419.92" y="251.84" width="6.23" height="7.68" fill="#c4c4f7" />
<rect x="425.55" y="251.84" width="6.23" height="7.68" fill="#c4c4f7" />
<rect x="431.17" y="251.84" width="6.23" height="7.68" fill="#c4c4f7" />
<rect x="436.80" y="251.84" width="6.23" height="7.68" fill="#c4c4f7" />
<rect x="442.43" y="251.84" width="6.23" height="7.68" fill="#c4c4f7" />
<rect x="448.06" y="251.84" width="6.23" height="7.68" fill="#c4c4f7" />
<rect x="453.69" y="251.84" width="6.23" height="7.68" fill="#c4c4f7" />
<rect x="459.32" y="251.84" width="6.23" height="7.68" fill="#c4c4f7" />
<rect x="464.94" y="251.84" width="6.23" height="7.68" fill="#c4c4f7" />
<rect x="470.57" y="251.84" width="9.23" height="7.68" fill="#c4c4f7" />
<rect x="253.70" y="258.92" width="9.23" height="7.68" fill="#7e7eed" />
<rect x="262.33" y="258.92" width="6.23" height="7.68" fill="#c4c4f7" />
<rect x="267.96" y="258.92" width="6.23" height="7.68" fill="#e5e5fb" />
<rect x="273.58" y="258.92" width="6.23" height="7.68" fill="#cdcdf8" />
<rect x="279.21" y="258.92" width="6.23" height="7.68" fill="#b4b4f5" />
<rect x="284.84" y="258.92" width="6.23" height="7.68" fill="#8787ef" />
<rect x="290.47" y="258.92" width="6.23" height="7.68" fill="#8787ef" />
<rect x="296.10" y="258.92" width="6.23" height="7.68" fill="#8787ef" />
<rect x="301.73" y="258.92" width="6.23" height="7.68" fill="#8787ef" />
<rect x="307.35" y="258.92" width="6.23" height="7.68" fill="#8787ef" />
<rect x="312.98" y="258.92" width="6.23" height="7.68" fill="#8787ef" />
<rect x="318.61" y="258.92" width="6.23" height="7.68" fill="#8787ef" />
<rect x="324.24" y="258.92" width="6.23" height="7.68" fill="#9090f0" />
<rect x="329.87" y="258.92" width="6.23" height="7.68" fill="#9090f0" />
<rect x="335.49" y="258.92" width="6.23" height="7.68" fill="#9090f0" />
<rect x="341.12" y="258.92" width="6.23" height="7.68" fill="#e5e5fb" />
<rect x="346.75" y="258.92" width="6.23" height="7.68" fill="#dfdffb" />
<rect x="352.38" y="258.92" width="6.23" height="7.68" fill="#a2a2f2" />
<rect x="358.01" y="258.92" width="6.23" height="7.68" fill="#eeeefd" />
<rect x="363.64" y="258.92" width="6.23" height="7.68" fill="#e5e5fb" />
<rect x="369.26" y="258.92" width="6.23" height="7.68" fill="#f07878" />
<rect x="374.89" y="258.92" width="6.23" height="7.68" fill="#f49090" />
<rect x="380.52" y="258.92" width="6.23" height="7.68" fill="#f8c8c8" />
<rect x="386.15" y="258.92" width="6.23" height="7.68" fill="#f49090" />
<rect x="391.78" y="258.92" width="6.23" height="7.68" fill="#f8d0d0" />
<rect x="397.41" y="258.92" width="6.23" height="7.68" fill="#f06868" />
<rect x="403.03" y="258.92" width="6.23" height="7.68" fill="#f06060" />
<rect x="408.66" y="258.92" width="6.23" height="7.68" fill="#f8c0c0" />
<rect x="414.29" y="258.92" width="6.23" height="7.68" fill="#f8c8c0" />
<rect x="419.92" y="258.92" width="6.23" height="7.68" fill="#f07070" />
<rect x="425.55" y="258.92" width="6.23" height="7.68" fill="#f8a0a0" />
<rect x="431.17" y="258.92" width="6.23" height="7.68" fill="#f06868" />
<rect x="436.80" y="258.92" width="6.23" height="7.68" fill="#f06868" />
<rect x="442.43" y="258.92" width="6.23" height="7.68" fill="#f07070" />
<rect x="448.06" y="258.92" width="6.23" height="7.68" fill="#f8e0e0" />
<rect x="453.69" y="258.92" width="6.23" height="7.68" fill="#f07878" />
<rect x="459.32" y="258.92" width="6.23" height="7.68" fill="#f8b0b0" />
<rect x="464.94" y="258.92" width="6.23" height="7.68" fill="#eeeefd" />
<rect x="470.57" y="258.92" width="9.23" height="7.68" fill="#e1e1fb" />
<rect x="253.70" y="266.01" width="9.23" height="7.68" fill="#c4c4f7" />
<rect x="262.33" y="266.01" width="6.23" height="7.68" fill="#c4c4f7" />
<rect x="267.96" y="266.01" width="6.23" height="7.68" fill="#c4c4f7" />
<rect x="273.58" y="266.01" width="6.23" height="7.68" fill="#c4c4f7" />
<rect x="279.21" y="266.01" width="6.23" height="7.68" fill="#c4c4f7" />
<rect x="284.84" y="266.01" width="6.23" height="7.68" fill="#a2a2f2" />
<rect x="290.47" y="266.01" width="6.23" height="7.68" fill="#a2a2f2" />
<rect x="296.10" y="266.01" width="6.23" height="7.68" fill="#a2a2f2" />
<rect x="301.73" y="266.01" width="6.23" height="7.68" fill="#a2a2f2" />
<rect x="307.35" y="266.01" width="6.23" height="7.68" fill="#a2a2f2" />
<rect x="312.98" y="266.01" width="6.23" height="7.68" fill="#9999f1" />
<rect x="318.61" y="266.01" width="6.23" height="7.68" fill="#a2a2f2" />
<rect x="324.24" y="266.01" width="6.23" height="7.68" fill="#a2a2f2" />
<rect x="329.87" y="266.01" width="6.23" height="7.68" fill="#a2a2f2" />
<rect x="335.49" y="266.01" width="6.23" height="7.68" fill="#ababf3" />
<rect x="341.12" y="266.01" width="6.23" height="7.68" fill="#dfdffb" />
<rect x="346.75" y="266.01" width="6.23" height="7.68" fill="#cdcdf8" />
<rect x="352.38" y="266.01" width="6.23" height="7.68" fill="#c4c4f7" />
<rect x="358.01" y="266.01" width="6.23" height="7.68" fill="#e5e5fb" />
<rect x="363.64" y="266.01" width="6.23" height="7.68" fill="#eeeefd" />
<rect x="369.26" y="266.01" width="6.23" height="7.68" fill="#f49090" />
<rect x="374.89" y="266.01" width="6.23" height="7.68" fill="#f8a0a0" />
<rect x="380.52" y="266.01" width="6.23" height="7.68" fill="#f8d8d8" />
<rect x="386.15" y="266.01" width="6.23" height="7.68" fill="#f8b0b0" />
<rect x="391.78" y="266.01" width="6.23" height="7.68" fill="#f8e0e0" />
<rect x="397.41" y="266.01" width="6.23" height="7.68" fill="#e83838" />
<rect x="403.03" y="266.01" width="6.23" height="7.68" fill="#f07070" />
<rect x="408.66" y="266.01" width="6.23" height="7.68" fill="#f8d0d0" />
<rect x="414.29" y="266.01" width="6.23" height="7.68" fill="#f07070" />
<rect x="419.92" y="266.01" width="6.23" height="7.68" fill="#f06868" />
<rect x="425.55" y="266.01" width="6.23" height="7.68" fill="#f8b0b0" />
<rect x="431.17" y="266.01" width="6.23" height="7.68" fill="#f8a8a8" />
<rect x="436.80" y="266.01" width="6.23" height="7.68" fill="#f8b0b0" />
<rect x="442.43" y="266.01" width="6.23" height="7.68" fill="#f8c0c0" />
<rect x="448.06" y="266.01" width="6.23" height="7.68" fill="#fff0f0" />
<rect x="453.69" y="266.01" width="6.23" height="7.68" fill="#f49090" />
<rect x="459.32" y="266.01" width="6.23" height="7.68" fill="#e84848" />
<rect x="464.94" y="266.01" width="6.23" height="7.68" fill="#f8f0f0" />
<rect x="470.57" y="266.01" width="9.23" height="7.68" fill="#c6c6f7" />
<rect x="253.70" y="273.09" width="9.23" height="7.68" fill="#f8d8d0" />
<rect x="262.33" y="273.09" width="6.23" height="7.68" fill="#f06060" />
<rect x="267.96" y="273.09" width="6.23" height="7.68" fill="#f05050" />
<rect x="273.58" y="273.09" width="6.23" height="7.68" fill="#f07070" />
<rect x="279.21" y="273.09" width="6.23" height="7.68" fill="#f8b0b0" />
<rect x="284.84" y="273.09" width="6.23" height="7.68" fill="#a2a2f2" />
<rect x="290.47" y="273.09" width="6.23" height="7.68" fill="#7575ec" />
<rect x="296.10" y="273.09" width="6.23" height="7.68" fill="#7575ec" />
<rect x="301.73" y="273.09" width="6.23" height="7.68" fill="#7e7eed" />
<rect x="307.35" y="273.09" width="6.23" height="7.68" fill="#a2a2f2" />
<rect x="312.98" y="273.09" width="6.23" height="7.68" fill="#a2a2f2" />
<rect x="318.61" y="273.09" width="6.23" height="7.68" fill="#ababf3" />
<rect x="324.24" y="273.09" width="6.23" height="7.68" fill="#f0f4f0" />
<rect x="329.87" y="273.09" width="6.23" height="7.68" fill="#bdbdf6" />
<rect x="335.49" y="273.09" width="6.23" height="7.68" fill="#c4c4f7" />
<rect x="341.12" y="273.09" width="6.23" height="7.68" fill="#f8d0d0" />
<rect x="346.75" y="273.09" width="6.23" height="7.68" fill="#f8a0a0" />
<rect x="352.38" y="273.09" width="6.23" height="7.68" fill="#f8c8c8" />
<rect x="358.01" y="273.09" width="6.23" height="7.68" fill="#f49090" />
<rect x="363.64" y="273.09" width="6.23" height="7.68" fill="#f49090" />
<rect x="369.26" y="273.09" width="6.23" height="7.68" fill="#fff8f8" />
<rect x="374.89" y="273.09" width="6.23" height="7.68" fill="#f8a0a0" />
<rect x="380.52" y="273.09" width="6.23" height="7.68" fill="#e5e5fb" />
<rect x="386.15" y="273.09" width="6.23" height="7.68" fill="#f8c0c0" />
<rect x="391.78" y="273.09" width="6.23" height="7.68" fill="#fff8f0" />
<rect x="397.41" y="273.09" width="6.23" height="7.68" fill="#e83838" />
<rect x="403.03" y="273.09" width="6.23" height="7.68" fill="#fffcf8" />
<rect x="408.66" y="273.09" width="6.23" height="7.68" fill="#a2a2f2" />
<rect x="414.29" y="273.09" width="6.23" height="7.68" fill="#f8c8c8" />
<rect x="419.92" y="273.09" width="6.23" height="7.68" fill="#bdbdf6" />
<rect x="425.55" y="273.09" width="6.23" height="7.68" fill="#9292f0" />
<rect x="431.17" y="273.09" width="6.23" height="7.68" fill="#f8c0c0" />
<rect x="436.80" y="273.09" width="6.23" height="7.68" fill="#fcfcff" />
<rect x="442.43" y="273.09" width="6.23" height="7.68" fill="#fcfcff" />
<rect x="448.06" y="273.09" width="6.23" height="7.68" fill="#f8e0e0" />
<rect x="453.69" y="273.09" width="6.23" height="7.68" fill="#d1d1f9" />
<rect x="459.32" y="273.09" width="6.23" height="7.68" fill="#7a7aed" />
<rect x="464.94" y="273.09" width="6.23" height="7.68" fill="#9595f0" />
<rect x="470.57" y="273.09" width="9.23" height="7.68" fill="#f7f7fe" />
<rect x="253.70" y="280.18" width="9.23" height="7.68" fill="#f8f0f8" />
<rect x="262.33" y="280.18" width="6.23" height="7.68" fill="#f49090" />
<rect x="267.96" y="280.18" width="6.23" height="7.68" fill="#f49090" />
<rect x="273.58" y="280.18" width="6.23" height="7.68" fill="#f49898" />
<rect x="279.21" y="280.18" width="6.23" height="7.68" fill="#f8a8a8" />
<rect x="284.84" y="280.18" width="6.23" height="7.68" fill="#a2a2f2" />
<rect x="290.47" y="280.18" width="6.23" height="7.68" fill="#a2a2f2" />
<rect x="296.10" y="280.18" width="6.23" height="7.68" fill="#8787ef" />
<rect x="301.73" y="280.18" width="6.23" height="7.68" fill="#8787ef" />
<rect x="307.35" y="280.18" width="6.23" height="7.68" fill="#9999f1" />
<rect x="312.98" y="280.18" width="6.23" height="7.68" fill="#8787ef" />
<rect x="318.61" y="280.18" width="6.23" height="7.68" fill="#8787ef" />
<rect x="324.24" y="280.18" width="6.23" height="7.68" fill="#9090f0" />
<rect x="329.87" y="280.18" width="6.23" height="7.68" fill="#9999f1" />
<rect x="335.49" y="280.18" width="6.23" height="7.68" fill="#9999f1" />
<rect x="341.12" y="280.18" width="6.23" height="7.68" fill="#fff8f0" />
<rect x="346.75" y="280.18" width="6.23" height="7.68" fill="#fff8f0" />
<rect x="352.38" y="280.18" width="6.23" height="7.68" fill="#fff0e8" />
<rect x="358.01" y="280.18" width="6.23" height="7.68" fill="#f49090" />
<rect x="363.64" y="280.18" width="6.23" height="7.68" fill="#f49090" />
<rect x="369.26" y="280.18" width="6.23" height="7.68" fill="#f8e0e0" />
<rect x="374.89" y="280.18" width="6.23" height="7.68" fill="#e82020" />
<rect x="380.52" y="280.18" width="6.23" height="7.68" fill="#f8c0c0" />
<rect x="386.15" y="280.18" width="6.23" height="7.68" fill="#f8c8c8" />
<rect x="391.78" y="280.18" width="6.23" height="7.68" fill="#f8f0f0" />
<rect x="397.41" y="280.18" width="6.23" height="7.68" fill="#f8c8c8" />
<rect x="403.03" y="280.18" width="6.23" height="7.68" fill="#f8d8d8" />
<rect x="408.66" y="280.18" width="6.23" height="7.68" fill="#fff8f8" />
<rect x="414.29" y="280.18" width="6.23" height="7.68" fill="#eeeefd" />
<rect x="419.92" y="280.18" width="6.23" height="7.68" fill="#f8c8c8" />
<rect x="425.55" y="280.18" width="6.23" height="7.68" fill="#fff0f0" />
<rect x="431.17" y="280.18" width="6.23" height="7.68" fill="#e83838" />
<rect x="436.80" y="280.18" width="6.23" height="7.68" fill="#afaff4" />
<rect x="442.43" y="280.18" width="6.23" height="7.68" fill="#fcfcff" />
<rect x="448.06" y="280.18" width="6.23" height="7.68" fill="#f8e0e0" />
<rect x="453.69" y="280.18" width="6.23" height="7.68" fill="#f8e8e8" />
<rect x="459.32" y="280.18" width="6.23" height="7.68" fill="#7171eb" />
<rect x="464.94" y="280.18" width="6.23" height="7.68" fill="#cdcdf8" />
<rect x="470.57" y="280.18" width="9.23" height="7.68" fill="#c4c4f7" />
<rect x="253.70" y="287.26" width="9.23" height="7.68" fill="#f8e8e8" />
<rect x="262.33" y="287.26" width="6.23" height="7.68" fill="#f7f7fe" />
<rect x="267.96" y="287.26" width="6.23" height="7.68" fill="#a2a2f2" />
<rect x="273.58" y="287.26" width="6.23" height="7.68" fill="#cdcdf8" />
<rect x="279.21" y="287.26" width="6.23" height="7.68" fill="#eeeefd" />
<rect x="284.84" y="287.26" width="6.23" height="7.68" fill="#f06060" />
<rect x="290.47" y="287.26" width="6.23" height="7.68" fill="#f05050" />
<rect x="296.10" y="287.26" width="6.23" height="7.68" fill="#e5e5fb" />
<rect x="301.73" y="287.26" width="6.23" height="7.68" fill="#f7f7fe" />
<rect x="307.35" y="287.26" width="6.23" height="7.68" fill="#dfdffb" />
<rect x="312.98" y="287.26" width="6.23" height="7.68" fill="#c4c4f7" />
<rect x="318.61" y="287.26" width="6.23" height="7.68" fill="#2a2ae2" />
<rect x="324.24" y="287.26" width="6.23" height="7.68" fill="#9999f1" />
<rect x="329.87" y="287.26" width="6.23" height="7.68" fill="#f7f7fe" />
<rect x="335.49" y="287.26" width="6.23" height="7.68" fill="#c4c4f7" />
<rect x="341.12" y="287.26" width="6.23" height="7.68" fill="#d6d6f9" />
<rect x="346.75" y="287.26" width="6.23" height="7.68" fill="#7e7eed" />
<rect x="352.38" y="287.26" width="6.23" height="7.68" fill="#6c6ceb" />
<rect x="358.01" y="287.26" width="6.23" height="7.68" fill="#cdcdf8" />
<rect x="363.64" y="287.26" width="6.23" height="7.68" fill="#eeeefd" />
<rect x="369.26" y="287.26" width="6.23" height="7.68" fill="#f8f0f0" />
<rect x="374.89" y="287.26" width="6.23" height="7.68" fill="#f06060" />
<rect x="380.52" y="287.26" width="6.23" height="7.68" fill="#f8f0f0" />
<rect x="386.15" y="287.26" width="6.23" height="7.68" fill="#eeeefd" />
<rect x="391.78" y="287.26" width="6.23" height="7.68" fill="#fff8f8" />
<rect x="397.41" y="287.26" width="6.23" height="7.68" fill="#dfdffb" />
<rect x="403.03" y="287.26" width="6.23" height="7.68" fill="#fff8f8" />
<rect x="408.66" y="287.26" width="6.23" height="7.68" fill="#f8e0e0" />
<rect x="414.29" y="287.26" width="6.23" height="7.68" fill="#f8d8d8" />
<rect x="419.92" y="287.26" width="6.23" height="7.68" fill="#f49090" />
<rect x="425.55" y="287.26" width="6.23" height="7.68" fill="#f8c8c8" />
<rect x="431.17" y="287.26" width="6.23" height="7.68" fill="#e84848" />
<rect x="436.80" y="287.26" width="6.23" height="7.68" fill="#f8e0e0" />
<rect x="442.43" y="287.26" width="6.23" height="7.68" fill="#f8c8c8" />
<rect x="448.06" y="287.26" width="6.23" height="7.68" fill="#fcfcff" />
<rect x="453.69" y="287.26" width="6.23" height="7.68" fill="#f07070" />
<rect x="459.32" y="287.26" width="6.23" height="7.68" fill="#8383ee" />
<rect x="464.94" y="287.26" width="6.23" height="7.68" fill="#7a7aed" />
<rect x="470.57" y="287.26" width="9.23" height="7.68" fill="#f49090" />
<rect x="253.70" y="294.35" width="9.23" height="7.68" fill="#c4c4f7" />
<rect x="262.33" y="294.35" width="6.23" height="7.68" fill="#c4c4f7" />
<rect x="267.96" y="294.35" width="6.23" height="7.68" fill="#bdbdf6" />
<rect x="273.58" y="294.35" width="6.23" height="7.68" fill="#e5e5fb" />
<rect x="279.21" y="294.35" width="6.23" height="7.68" fill="#c4c4f7" />
<rect x="284.84" y="294.35" width="6.23" height="7.68" fill="#d6d6f9" />
<rect x="290.47" y="294.35" width="6.23" height="7.68" fill="#5a5ae8" />
<rect x="296.10" y="294.35" width="6.23" height="7.68" fill="#dfdffb" />
<rect x="301.73" y="294.35" width="6.23" height="7.68" fill="#ababf3" />
<rect x="307.35" y="294.35" width="6.23" height="7.68" fill="#c4c4f7" />
<rect x="312.98" y="294.35" width="6.23" height="7.68" fill="#c4c4f7" />
<rect x="318.61" y="294.35" width="6.23" height="7.68" fill="#b4b4f5" />
<rect x="324.24" y="294.35" width="6.23" height="7.68" fill="#c4c4f7" />
<rect x="329.87" y="294.35" width="6.23" height="7.68" fill="#eeeefd" />
<rect x="335.49" y="294.35" width="6.23" height="7.68" fill="#d6d6f9" />
<rect x="341.12" y="294.35" width="6.23" height="7.68" fill="#c4c4f7" />
<rect x="346.75" y="294.35" width="6.23" height="7.68" fill="#bdbdf6" />
<rect x="352.38" y="294.35" width="6.23" height="7.68" fill="#7e7eed" />
<rect x="358.01" y="294.35" width="6.23" height="7.68" fill="#e5e5fb" />
<rect x="363.64" y="294.35" width="6.23" height="7.68" fill="#f3f3fd" />
<rect x="369.26" y="294.35" width="6.23" height="7.68" fill="#dadafa" />
<rect x="374.89" y="294.35" width="6.23" height="7.68" fill="#f8e0e0" />
<rect x="380.52" y="294.35" width="6.23" height="7.68" fill="#f7f7fe" />
<rect x="386.15" y="294.35" width="6.23" height="7.68" fill="#f8b0b0" />
<rect x="391.78" y="294.35" width="6.23" height="7.68" fill="#fff0e8" />
<rect x="397.41" y="294.35" width="6.23" height="7.68" fill="#f8f0f0" />
<rect x="403.03" y="294.35" width="6.23" height="7.68" fill="#f7f7fe" />
<rect x="408.66" y="294.35" width="6.23" height="7.68" fill="#f8e8e8" />
<rect x="414.29" y="294.35" width="6.23" height="7.68" fill="#f8c8c8" />
<rect x="419.92" y="294.35" width="6.23" height="7.68" fill="#f8d8d8" />
<rect x="425.55" y="294.35" width="6.23" height="7.68" fill="#f8c0c0" />
<rect x="431.17" y="294.35" width="6.23" height="7.68" fill="#f8c0c0" />
<rect x="436.80" y="294.35" width="6.23" height="7.68" fill="#fff0f0" />
<rect x="442.43" y="294.35" width="6.23" height="7.68" fill="#f8b0b0" />
<rect x="448.06" y="294.35" width="6.23" height="7.68" fill="#f8d0d0" />
<rect x="453.69" y="294.35" width="6.23" height="7.68" fill="#f07070" />
<rect x="459.32" y="294.35" width="6.23" height="7.68" fill="#f8b0a0" />
<rect x="464.94" y="294.35" width="6.23" height="7.68" fill="#e84040" />
<rect x="470.57" y="294.35" width="9.23" height="7.68" fill="#e80000" />
<rect x="253.70" y="301.43" width="9.23" height="7.68" fill="#cdcdf8" />
<rect x="262.33" y="301.43" width="6.23" height="7.68" fill="#c4c4f7" />
<rect x="267.96" y="301.43" width="6.23" height="7.68" fill="#c4c4f7" />
<rect x="273.58" y="301.43" width="6.23" height="7.68" fill="#e5e5fb" />
<rect x="279.21" y="301.43" width="6.23" height="7.68" fill="#bdbdf6" />
<rect x="284.84" y="301.43" width="6.23" height="7.68" fill="#e5e5fb" />
<rect x="290.47" y="301.43" width="6.23" height="7.68" fill="#f7f7fe" />
<rect x="296.10" y="301.43" width="6.23" height="7.68" fill="#dfdffb" />
<rect x="301.73" y="301.43" width="6.23" height="7.68" fill="#b4b4f5" />
<rect x="307.35" y="301.43" width="6.23" height="7.68" fill="#c4c4f7" />
<rect x="312.98" y="301.43" width="6.23" height="7.68" fill="#cdcdf8" />
<rect x="318.61" y="301.43" width="6.23" height="7.68" fill="#c4c4f7" />
<rect x="324.24" y="301.43" width="6.23" height="7.68" fill="#c4c4f7" />
<rect x="329.87" y="301.43" width="6.23" height="7.68" fill="#eeeefd" />
<rect x="335.49" y="301.43" width="6.23" height="7.68" fill="#dfdffb" />
<rect x="341.12" y="301.43" width="6.23" height="7.68" fill="#cdcdf8" />
<rect x="346.75" y="301.43" width="6.23" height="7.68" fill="#c4c4f7" />
<rect x="352.38" y="301.43" width="6.23" height="7.68" fill="#ababf3" />
<rect x="358.01" y="301.43" width="6.23" height="7.68" fill="#dfdffb" />
<rect x="363.64" y="301.43" width="6.23" height="7.68" fill="#e5e5fb" />
<rect x="369.26" y="301.43" width="6.23" height="7.68" fill="#eeeefd" />
<rect x="374.89" y="301.43" width="6.23" height="7.68" fill="#fff0f0" />
<rect x="380.52" y="301.43" width="6.23" height="7.68" fill="#fcfcff" />
<rect x="386.15" y="301.43" width="6.23" height="7.68" fill="#f8b0b0" />
<rect x="391.78" y="301.43" width="6.23" height="7.68" fill="#fff0e8" />
<rect x="397.41" y="301.43" width="6.23" height="7.68" fill="#f7f7fe" />
<rect x="403.03" y="301.43" width="6.23" height="7.68" fill="#fff8f8" />
<rect x="408.66" y="301.43" width="6.23" height="7.68" fill="#f8f0f0" />
<rect x="414.29" y="301.43" width="6.23" height="7.68" fill="#f8d8d8" />
<rect x="419.92" y="301.43" width="6.23" height="7.68" fill="#f8e8e8" />
<rect x="425.55" y="301.43" width="6.23" height="7.68" fill="#f8e8e8" />
<rect x="431.17" y="301.43" width="6.23" height="7.68" fill="#f8c8c8" />
<rect x="436.80" y="301.43" width="6.23" height="7.68" fill="#fcfcff" />
<rect x="442.43" y="301.43" width="6.23" height="7.68" fill="#f8c0c0" />
<rect x="448.06" y="301.43" width="6.23" height="7.68" fill="#f8d8d8" />
<rect x="453.69" y="301.43" width="6.23" height="7.68" fill="#f8a0a0" />
<rect x="459.32" y="301.43" width="6.23" height="7.68" fill="#ee3030" />
<rect x="464.94" y="301.43" width="6.23" height="7.68" fill="#e83838" />
<rect x="470.57" y="301.43" width="9.23" height="7.68" fill="#e80000" />
<rect x="253.70" y="308.52" width="9.23" height="10.68" fill="#f7f7fe" />
<rect x="262.33" y="308.52" width="6.23" height="10.68" fill="#f7f7fe" />
<rect x="267.96" y="308.52" width="6.23" height="10.68" fill="#a2a2f2" />
<rect x="273.58" y="308.52" width="6.23" height="10.68" fill="#dfdffb" />
<rect x="279.21" y="308.52" width="6.23" height="10.68" fill="#f8f0f0" />
<rect x="284.84" y="308.52" width="6.23" height="10.68" fill="#f8d8d8" />
<rect x="290.47" y="308.52" width="6.23" height="10.68" fill="#f8a8b0" />
<rect x="296.10" y="308.52" width="6.23" height="10.68" fill="#e5e5fb" />
<rect x="301.73" y="308.52" width="6.23" height="10.68" fill="#f8e0e0" />
<rect x="307.35" y="308.52" width="6.23" height="10.68" fill="#d6d6f9" />
<rect x="312.98" y="308.52" width="6.23" height="10.68" fill="#d6d6f9" />
<rect x="318.61" y="308.52" width="6.23" height="10.68" fill="#5a5ae8" />
<rect x="324.24" y="308.52" width="6.23" height="10.68" fill="#7e7eed" />
<rect x="329.87" y="308.52" width="6.23" height="10.68" fill="#f7f7fe" />
<rect x="335.49" y="308.52" width="6.23" height="10.68" fill="#dfdffb" />
<rect x="341.12" y="308.52" width="6.23" height="10.68" fill="#e5e5fb" />
<rect x="346.75" y="308.52" width="6.23" height="10.68" fill="#8787ef" />
<rect x="352.38" y="308.52" width="6.23" height="10.68" fill="#7e7eed" />
<rect x="358.01" y="308.52" width="6.23" height="10.68" fill="#e5e5fb" />
<rect x="363.64" y="308.52" width="6.23" height="10.68" fill="#d6d6f9" />
<rect x="369.26" y="308.52" width="6.23" height="10.68" fill="#e5e5fb" />
<rect x="374.89" y="308.52" width="6.23" height="10.68" fill="#f49090" />
<rect x="380.52" y="308.52" width="6.23" height="10.68" fill="#fcfcff" />
<rect x="386.15" y="308.52" width="6.23" height="10.68" fill="#fff8f8" />
<rect x="391.78" y="308.52" width="6.23" height="10.68" fill="#f7f7fe" />
<rect x="397.41" y="308.52" width="6.23" height="10.68" fill="#e5e5fb" />
<rect x="403.03" y="308.52" width="6.23" height="10.68" fill="#fff8f8" />
<rect x="408.66" y="308.52" width="6.23" height="10.68" fill="#e5e5fb" />
<rect x="414.29" y="308.52" width="6.23" height="10.68" fill="#f8e0e0" />
<rect x="419.92" y="308.52" width="6.23" height="10.68" fill="#f8d0d0" />
<rect x="425.55" y="308.52" width="6.23" height="10.68" fill="#fff0f0" />
<rect x="431.17" y="308.52" width="6.23" height="10.68" fill="#f07070" />
<rect x="436.80" y="308.52" width="6.23" height="10.68" fill="#fcfcff" />
<rect x="442.43" y="308.52" width="6.23" height="10.68" fill="#f8c0c0" />
<rect x="448.06" y="308.52" width="6.23" height="10.68" fill="#e5e5fb" />
<rect x="453.69" y="308.52" width="6.23" height="10.68" fill="#f49090" />
<rect x="459.32" y="308.52" width="6.23" height="10.68" fill="#c4c4f7" />
<rect x="464.94" y="308.52" width="6.23" height="10.68" fill="#a7a7f3" />
<rect x="470.57" y="308.52" width="9.23" height="10.68" fill="#e80000" />
</g></g>
<rect x="256.70" y="218.40" width="27.10" height="1.60" fill="#333" />
<text x="270.2" y="213.6" text-anchor="middle" font-size="8.6" font-weight="normal" fill="#1a1a1a" >Naive</text>
<rect x="286.40" y="218.40" width="25.70" height="1.60" fill="#333" />
<text x="298.6" y="213.6" text-anchor="middle" font-size="8.6" font-weight="normal" fill="#1a1a1a" >CB</text>
<rect x="314.40" y="218.40" width="25.40" height="1.60" fill="#333" />
<text x="326.4" y="213.6" text-anchor="middle" font-size="8.6" font-weight="normal" fill="#1a1a1a" >CC</text>
<rect x="342.30" y="218.40" width="26.90" height="1.60" fill="#333" />
<text x="355.1" y="213.6" text-anchor="middle" font-size="8.6" font-weight="normal" fill="#1a1a1a" >Memory</text>
<rect x="371.50" y="218.40" width="104.40" height="1.60" fill="#333" />
<text x="422.9" y="213.6" text-anchor="middle" font-size="8.6" font-weight="normal" fill="#1a1a1a" >CLL</text>
<path d="M480.2,225.1 H482.6 V244.3 H480.2" fill="none" stroke="#222" stroke-width="1"/>
<text x="485.6" y="238.7" text-anchor="start" font-size="8.6" font-weight="normal" fill="#1a1a1a" >BCL6</text>
<path d="M480.2,246.5 H482.6 V256.4 H480.2" fill="none" stroke="#222" stroke-width="1"/>
<text x="485.6" y="255.4" text-anchor="start" font-size="8.6" font-weight="normal" fill="#1a1a1a" >AICDA</text>
<path d="M480.2,260.9 H482.6 V271.8 H480.2" fill="none" stroke="#222" stroke-width="1"/>
<text x="485.6" y="268.7" text-anchor="start" font-size="8.6" font-weight="normal" fill="#1a1a1a" >BCL2</text>
<path d="M480.2,274.8 H482.6 V286.8 H480.2" fill="none" stroke="#222" stroke-width="1"/>
<text x="485.6" y="282.6" text-anchor="start" font-size="8.6" font-weight="normal" fill="#1a1a1a" >IRF4</text>
<path d="M480.2,288.2 H482.6 V315.0 H480.2" fill="none" stroke="#222" stroke-width="1"/>
<text x="485.6" y="304.4" text-anchor="start" font-size="8.6" font-weight="normal" fill="#1a1a1a" >SF3B1</text>
<rect x="256.60" y="320.00" width="12.72" height="3.90" fill="rgb(15,15,218)" />
<rect x="268.82" y="320.00" width="12.72" height="3.90" fill="rgb(46,46,233)" />
<rect x="281.04" y="320.00" width="12.72" height="3.90" fill="rgb(76,76,243)" />
<rect x="293.27" y="320.00" width="12.72" height="3.90" fill="rgb(106,106,249)" />
<rect x="305.49" y="320.00" width="12.72" height="3.90" fill="rgb(136,136,252)" />
<rect x="317.71" y="320.00" width="12.72" height="3.90" fill="rgb(164,164,254)" />
<rect x="329.93" y="320.00" width="12.72" height="3.90" fill="rgb(192,192,254)" />
<rect x="342.16" y="320.00" width="12.72" height="3.90" fill="rgb(219,219,254)" />
<rect x="354.38" y="320.00" width="12.72" height="3.90" fill="rgb(244,244,254)" />
<rect x="366.60" y="320.00" width="12.72" height="3.90" fill="rgb(254,244,244)" />
<rect x="378.82" y="320.00" width="12.72" height="3.90" fill="rgb(254,219,219)" />
<rect x="391.04" y="320.00" width="12.72" height="3.90" fill="rgb(254,192,192)" />
<rect x="403.27" y="320.00" width="12.72" height="3.90" fill="rgb(254,164,164)" />
<rect x="415.49" y="320.00" width="12.72" height="3.90" fill="rgb(253,136,136)" />
<rect x="427.71" y="320.00" width="12.72" height="3.90" fill="rgb(251,106,106)" />
<rect x="439.93" y="320.00" width="12.72" height="3.90" fill="rgb(248,76,76)" />
<rect x="452.16" y="320.00" width="12.72" height="3.90" fill="rgb(242,46,46)" />
<rect x="464.38" y="320.00" width="12.22" height="3.90" fill="rgb(234,15,15)" />
<text x="257.6" y="331.5" text-anchor="start" font-size="9.0" font-weight="normal" fill="#1a1a1a" >-3.0</text>
<text x="476.6" y="331.4" text-anchor="end" font-size="9.0" font-weight="normal" fill="#1a1a1a" >3.0</text>
</svg>
</body></html>
